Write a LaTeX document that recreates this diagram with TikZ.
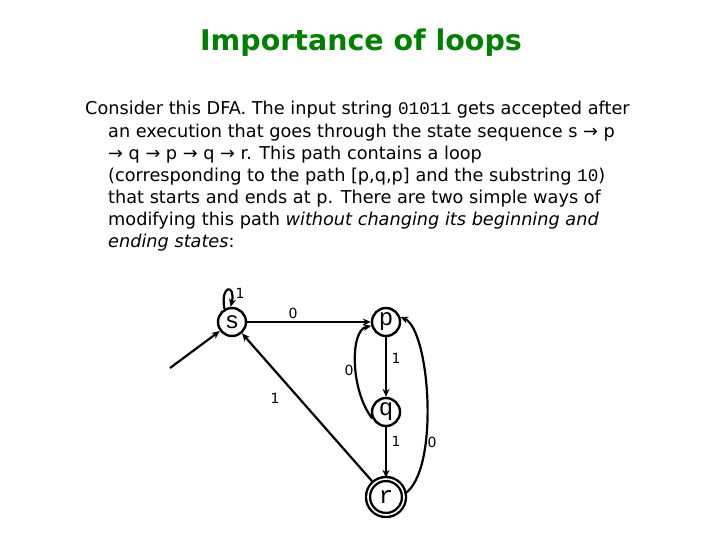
\documentclass[tikz,border=0pt]{standalone}
\usepackage{fontspec}
\setmainfont{DejaVu Sans}
\setmonofont{Liberation Mono}
\usetikzlibrary{arrows.meta}
\begin{document}
\begin{tikzpicture}[x=1pt,y=-1pt,
  st/.style={circle,draw,line width=2.4pt,minimum size=28pt,inner sep=0pt,font=\ttfamily\fontsize{24}{24}\selectfont},
  ed/.style={line width=2.2pt,-{Stealth[length=8pt,width=7pt]}},
  lb/.style={font=\fontsize{14}{14}\selectfont},
  tx/.style={anchor=base west,inner sep=0pt,font=\fontsize{17.7}{18}\selectfont}]
\useasboundingbox (0,0) rectangle (721,541);
\node[font=\bfseries\fontsize{28.5}{30}\selectfont,text=green!50!black] (title) at (361,43) {Importance of loops};
\node[tx] (l1) at (85,114) {Consider this DFA. The input string \texttt{01011} gets accepted after};
\node[tx] (l2) at (108,137) {an execution that goes through the state sequence s → p};
\node[tx] (l3) at (108,159) {→ q → p → q → r. This path contains a loop};
\node[tx] (l4) at (108,181) {(corresponding to the path [p,q,p] and the substring \texttt{10})};
\node[tx] (l5) at (108,203) {that starts and ends at p. There are two simple ways of};
\node[tx] (l6) at (108,225) {modifying this path \textit{without changing its beginning and}};
\node[tx] (l7) at (108,247) {\textit{ending states}:};
\node[st] (s) at (232,322) {s};
\node[st] (p) at (386,322) {p};
\node[st] (q) at (386,412) {q};
\node[st,double,double distance=1.6pt,minimum size=36pt] (r) at (386,497) {r};
\coordinate (init) at (170,368);
\draw[ed] (init) -- (s);
\draw[ed] (s.120) .. controls (220,284) and (236,284) .. (s.95);
\node[lb] (l1s) at (240,293) {1};
\draw[ed] (s) -- (p);
\node[lb] (l0sp) at (293,313) {0};
\draw[ed] (p) -- (q);
\node[lb] (l1pq) at (396,358) {1};
\draw[ed] (q.205) .. controls (350,390) and (350,330) .. (p.195);
\node[lb] (l0qp) at (349,370) {0};
\draw[ed] (q) -- (r);
\node[lb] (l1qr) at (396,441) {1};
\draw[ed] (r) -- (s);
\node[lb] (l1rs) at (275,398) {1};
\draw[ed] (r.10) .. controls (440,470) and (430,330) .. (p.20);
\node[lb] (l0rp) at (432,442) {0};
\end{tikzpicture}
\end{document}
